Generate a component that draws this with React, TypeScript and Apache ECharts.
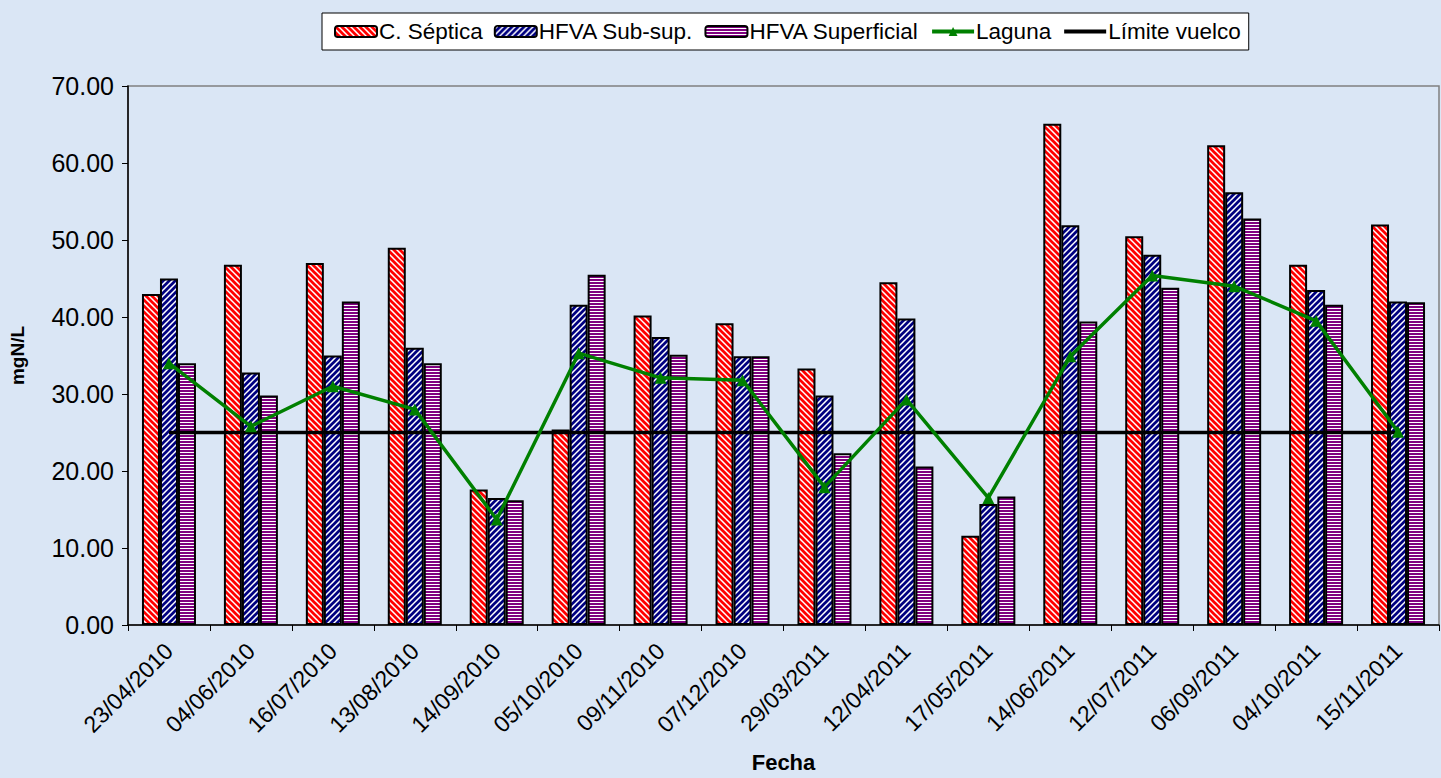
import React, { useEffect, useRef } from "react";
import * as echarts from "echarts";

// Sampling dates (x axis)
const fechas = [
  "23/04/2010", "04/06/2010", "16/07/2010", "13/08/2010", "14/09/2010", "05/10/2010",
  "09/11/2010", "07/12/2010", "29/03/2011", "12/04/2011", "17/05/2011", "14/06/2011",
  "12/07/2011", "06/09/2011", "04/10/2011", "15/11/2011",
];

// Nitrogen concentration, mgN/L
const camaraSeptica = [43.0, 46.8, 47.0, 49.0, 17.6, 25.4, 40.2, 39.2, 33.3, 44.5, 11.6, 65.1, 50.5, 62.3, 46.8, 52.0];
const hfvaSubSup = [45.0, 32.8, 35.0, 36.0, 16.5, 41.6, 37.4, 34.9, 29.8, 39.8, 15.7, 51.9, 48.1, 56.2, 43.5, 42.0];
const hfvaSuperficial = [34.0, 29.8, 42.0, 34.0, 16.2, 45.5, 35.1, 34.9, 22.3, 20.6, 16.7, 39.4, 43.8, 52.8, 41.6, 41.9];
const laguna = [34.0, 25.8, 31.0, 28.0, 13.7, 35.3, 32.1, 31.8, 17.9, 29.3, 16.5, 34.9, 45.4, 44.0, 39.5, 25.1];
const limiteVuelco = [25, 25, 25, 25, 25, 25, 25, 25, 25, 25, 25, 25, 25, 25, 25, 25];

const FONT = "'Liberation Sans', Arial, Helvetica, sans-serif";

// Builds a small striped tile used as a repeating bar fill.
function stripeFill(kind: "back" | "fwd" | "horiz", color: string) {
  const c = document.createElement("canvas");
  const ctx = c.getContext("2d")!;
  if (kind === "horiz") {
    c.width = 4;
    c.height = 3;
    ctx.fillStyle = "#ffffff";
    ctx.fillRect(0, 0, 4, 3);
    ctx.fillStyle = color;
    ctx.fillRect(0, 0, 4, 2);
  } else {
    const s = 6;
    c.width = s;
    c.height = s;
    ctx.fillStyle = "#ffffff";
    ctx.fillRect(0, 0, s, s);
    ctx.strokeStyle = color;
    ctx.lineWidth = 2.7;
    for (const off of [-s, 0, s]) {
      ctx.beginPath();
      if (kind === "back") {
        ctx.moveTo(off - 1, -1);
        ctx.lineTo(off + s + 1, s + 1);
      } else {
        ctx.moveTo(off - 1, s + 1);
        ctx.lineTo(off + s + 1, -1);
      }
      ctx.stroke();
    }
  }
  return { image: c, repeat: "repeat", imageWidth: c.width, imageHeight: c.height } as any;
}

export default function App() {
  const ref = useRef<HTMLDivElement>(null);

  useEffect(() => {
    if (!ref.current) return;
    const chart = echarts.init(ref.current, null, { renderer: "svg" });

    const barBorder = { borderColor: "#000000", borderWidth: 2 };

    chart.setOption({
      animation: false,
      backgroundColor: "#dae6f5",
      textStyle: { fontFamily: FONT, color: "#000" },
      legend: {
        left: 322,
        top: 13,
        backgroundColor: "#ffffff",
        borderColor: "#000000",
        borderWidth: 1,
        padding: [7, 8, 7, 12],
        itemWidth: 42,
        itemHeight: 11,
        itemGap: 11,
        lineStyle: { width: 4 },
        textStyle: { fontFamily: FONT, fontSize: 22.5, color: "#000", padding: [0, 0, 0, -3] },
        data: [
          { name: "C. Séptica" },
          { name: "HFVA Sub-sup." },
          { name: "HFVA Superficial" },
          { name: "Laguna" },
          { name: "Límite vuelco", itemStyle: { color: "rgba(0,0,0,0)", borderWidth: 0 } },
        ],
      },
      grid: {
        left: 128,
        right: 2,
        top: 86,
        bottom: 152,
        show: true,
        borderColor: "#808080",
        borderWidth: 1.5,
        backgroundColor: "transparent",
      },
      xAxis: {
        type: "category",
        data: fechas,
        boundaryGap: true,
        name: "Fecha",
        nameLocation: "middle",
        nameGap: 126,
        nameTextStyle: { fontFamily: FONT, fontSize: 22, fontWeight: "bold", color: "#000" },
        axisLine: { lineStyle: { color: "#000", width: 1.5 } },
        axisTick: { show: true, length: 6, lineStyle: { color: "#000" } },
        axisLabel: {
          interval: 0,
          rotate: 45,
          margin: 22,
          fontFamily: FONT,
          fontSize: 23,
          color: "#000",
        },
        splitLine: { show: false },
      },
      yAxis: {
        type: "value",
        min: 0,
        max: 70,
        interval: 10,
        name: "mgN/L",
        nameLocation: "middle",
        nameGap: 101,
        nameRotate: 90,
        nameTextStyle: { fontFamily: FONT, fontSize: 19, fontWeight: "bold", color: "#000" },
        axisLine: { show: true, lineStyle: { color: "#000", width: 1.5 } },
        axisTick: { show: true, length: 6, lineStyle: { color: "#000" } },
        axisLabel: {
          margin: 14,
          fontFamily: FONT,
          fontSize: 25,
          color: "#000",
          formatter: (v: number) => v.toFixed(2),
        },
        splitLine: { show: false },
      },
      series: [
        {
          name: "C. Séptica",
          type: "bar",
          data: camaraSeptica,
          barWidth: 18,
          barGap: "0%",
          itemStyle: { color: stripeFill("back", "#ff0000"), ...barBorder },
        },
        {
          name: "HFVA Sub-sup.",
          type: "bar",
          data: hfvaSubSup,
          barWidth: 18,
          barGap: "0%",
          itemStyle: { color: stripeFill("fwd", "#000080"), ...barBorder },
        },
        {
          name: "HFVA Superficial",
          type: "bar",
          data: hfvaSuperficial,
          barWidth: 18,
          barGap: "0%",
          itemStyle: { color: stripeFill("horiz", "#800080"), ...barBorder },
        },
        {
          name: "Límite vuelco",
          type: "line",
          data: limiteVuelco,
          symbol: "none",
          z: 3,
          lineStyle: { color: "#000000", width: 3.5 },
          itemStyle: { color: "#000000" },
        },
        {
          name: "Laguna",
          type: "line",
          data: laguna,
          symbol: "triangle",
          symbolSize: 12,
          z: 4,
          lineStyle: { color: "#008000", width: 3.5 },
          itemStyle: { color: "#008000" },
        },
      ],
    });

    return () => chart.dispose();
  }, []);

  return (
    <div
      ref={ref}
      style={{ position: "fixed", left: 0, top: 0, width: 1441, height: 778 }}
    />
  );
}
